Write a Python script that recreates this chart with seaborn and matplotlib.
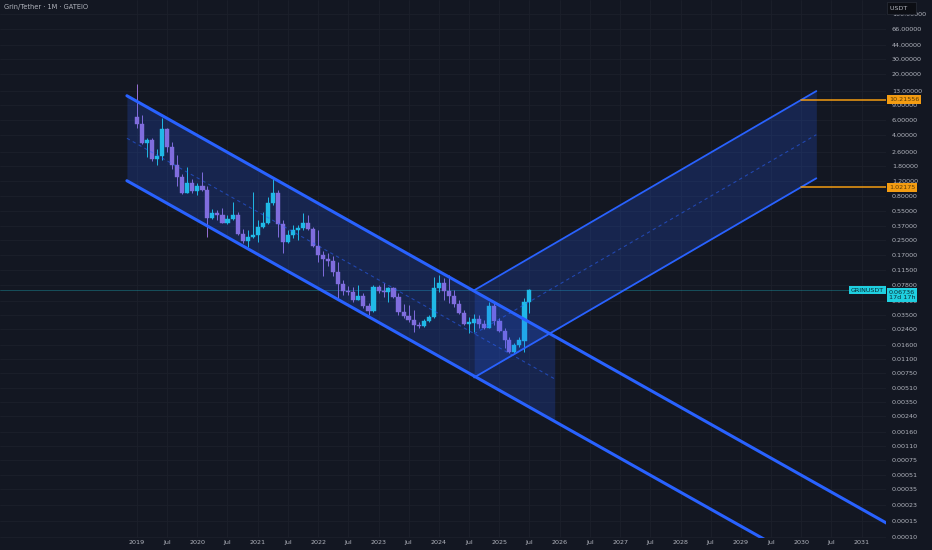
import numpy as np
import pandas as pd
import matplotlib
matplotlib.use("Agg")
import matplotlib.pyplot as plt
import matplotlib.dates as mdates
from matplotlib.ticker import NullLocator
from matplotlib.transforms import blended_transform_factory
import seaborn as sns

BG = "#131722"
GRID = "#1c202b"
TXT = "#b2b5be"
UP = "#1fcfe0"
DOWN = "#9670d6"
BLUE = "#2962ff"
ORANGE = "#f39c12"

# --- Grin/Tether monthly candles, Jan 2019 .. Jul 2025 ---
months = pd.date_range("2019-01-01", "2025-07-01", freq="MS")
opens = [6.555, 5.362, 3.248, 3.543, 2.129, 2.322, 4.700, 2.969, 1.831, 1.345,
         0.881, 1.129, 0.9216, 1.052, 0.9462, 0.448, 0.5114, 0.4928, 0.399, 0.4434,
         0.489, 0.2961, 0.2442, 0.2757, 0.2884, 0.359, 0.399, 0.6765, 0.8671, 0.3855,
         0.2416, 0.2884, 0.3291, 0.3441, 0.3927, 0.3378, 0.2157, 0.1701, 0.1518, 0.1463,
         0.1094, 0.07907, 0.06522, 0.06318, 0.05182, 0.05805, 0.04387, 0.03877, 0.07249, 0.06626,
         0.06403, 0.07058, 0.05654, 0.03805, 0.03424, 0.03031, 0.02678, 0.02608, 0.03, 0.03334,
         0.07171, 0.08054, 0.06626, 0.05805, 0.04626, 0.03648, 0.02728, 0.02801, 0.03112, 0.02728,
         0.02493, 0.04457, 0.02977, 0.02304, 0.01802, 0.01302, 0.01579, 0.01755, 0.04877]
highs = [15.55, 6.857, 3.707, 3.70, 2.772, 6.283, 4.826, 3.388, 2.384, 1.45,
         1.723, 1.255, 1.129, 1.534, 1.052, 0.5683, 0.5578, 0.5834, 0.489, 0.6947,
         0.5334, 0.3352, 0.3291, 0.8905, 0.4284, 0.5334, 0.7805, 1.265, 0.9462, 0.4284,
         0.3291, 0.3754, 0.3754, 0.5114, 0.489, 0.359, 0.3291, 0.1905, 0.1793, 0.1656,
         0.1425, 0.08789, 0.07559, 0.07362, 0.077, 0.06185, 0.04749, 0.077, 0.077, 0.08054,
         0.07362, 0.07362, 0.06185, 0.04662, 0.04541, 0.0398, 0.02921, 0.03112, 0.03487, 0.09436,
         0.1003, 0.09192, 0.1003, 0.06749, 0.05182, 0.0398, 0.03334, 0.03552, 0.03487, 0.03031,
         0.04955, 0.04749, 0.03195, 0.02455, 0.01966, 0.01652, 0.01966, 0.05507, 0.06929]
lows = [4.826, 3.188, 2.244, 2.019, 1.816, 2.089, 2.602, 1.635, 1.052, 0.8514,
        0.8671, 0.8671, 0.829, 0.9216, 0.2757, 0.4365, 0.4284, 0.3927, 0.3855, 0.4284,
        0.2884, 0.2316, 0.2084, 0.2643, 0.2416, 0.3469, 0.3855, 0.6368, 0.2757, 0.1807,
        0.2316, 0.2643, 0.2527, 0.3291, 0.3291, 0.2084, 0.1414, 0.09766, 0.1272, 0.09766,
        0.0542, 0.05913, 0.05913, 0.04955, 0.05114, 0.04162, 0.03487, 0.03805, 0.06235, 0.05609,
        0.04955, 0.0542, 0.03487, 0.03195, 0.02921, 0.02244, 0.02455, 0.0252, 0.02898, 0.03195,
        0.06453, 0.05182, 0.04749, 0.04341, 0.03552, 0.02678, 0.02151, 0.02244, 0.02455, 0.0241,
        0.02455, 0.02678, 0.02244, 0.01447, 0.01269, 0.0128, 0.0151, 0.01302, 0.03648]
closes = [5.362, 3.248, 3.543, 2.129, 2.322, 4.700, 2.969, 1.831, 1.345, 0.881,
          1.129, 0.9216, 1.052, 0.9462, 0.448, 0.5114, 0.4928, 0.399, 0.4434, 0.489,
          0.2961, 0.2442, 0.2757, 0.2884, 0.359, 0.399, 0.6765, 0.8671, 0.3855, 0.2416,
          0.2884, 0.3291, 0.3441, 0.3927, 0.3378, 0.2157, 0.1701, 0.1518, 0.1463, 0.1094,
          0.07907, 0.06522, 0.06318, 0.05182, 0.05805, 0.04387, 0.03877, 0.07249, 0.06626, 0.06403,
          0.07058, 0.05654, 0.03805, 0.03424, 0.03031, 0.02678, 0.02608, 0.03, 0.03334, 0.07171,
          0.08054, 0.06626, 0.05805, 0.04626, 0.03648, 0.02728, 0.02861, 0.03112, 0.02728, 0.02493,
          0.04457, 0.02977, 0.02304, 0.01802, 0.01302, 0.01579, 0.01802, 0.04877, 0.06736]
last_price = 0.06736

# descending channel: upper line anchors, lower line = upper / width, rays go right
down_dates = ["2018-11-01", "2025-12-01"]
down_upper = [11.4, 0.0198]
down_width = 9.43
down_ray_end = "2032-06-01"

# ascending channel (projection)
up_dates = ["2024-08-01", "2030-04-01"]
up_lower = [0.0067, 1.289]
up_width = 10.0
target_date = "2030-01-01"
targets = [10.21556, 1.02175]

price_ticks = [100, 66, 44, 30, 20, 13, 9, 6, 4, 2.6, 1.8, 1.2, 0.8, 0.55, 0.37, 0.25,
               0.17, 0.115, 0.078, 0.051, 0.035, 0.024, 0.016, 0.011, 0.0075, 0.0051,
               0.0035, 0.0024, 0.0016, 0.0011, 0.00075, 0.00051, 0.00035, 0.00023,
               0.00015, 0.0001]
time_ticks = pd.date_range("2019-01-01", "2031-01-01", freq="6MS")
time_labels = [str(d.year) if d.month == 1 else "Jul" for d in time_ticks]


def ray(dates, vals, to):
    x = mdates.date2num(pd.to_datetime(dates))
    lv = np.log10(vals)
    slope = (lv[1] - lv[0]) / (x[1] - x[0])
    xe = mdates.date2num(pd.Timestamp(to))
    return 10 ** (lv[0] + slope * (xe - x[0]))


sns.set_theme(style="dark", rc={
    "axes.facecolor": BG, "figure.facecolor": BG, "grid.color": GRID,
    "axes.grid": True, "grid.linewidth": 0.6,
    "xtick.color": TXT, "ytick.color": TXT, "text.color": TXT,
})
plt.rcParams["font.family"] = ["Liberation Sans Narrow", "DejaVu Sans"]

fig = plt.figure(figsize=(9.32, 5.5), dpi=100)
ax = fig.add_axes([0, 12 / 550, 886 / 932, 538 / 550])
for s in ax.spines.values():
    s.set_visible(False)

# --- candles ---
x = mdates.date2num(months)
o, h, l, c = map(np.array, (opens, highs, lows, closes))
col = np.where(c >= o, UP, DOWN)
ax.vlines(x, l, h, colors=col, lw=0.7, zorder=2)
ax.bar(x, np.abs(c - o), bottom=np.minimum(o, c), width=25, color=col,
       edgecolor=col, linewidth=0.3, zorder=2)

# --- descending channel ---
dx = mdates.date2num(pd.to_datetime(down_dates))
du = np.array(down_upper)
dl = du / down_width
ax.fill_between(dx, du, dl, color=BLUE, alpha=0.2, lw=0, zorder=3)
ax.plot(dx, np.sqrt(du * dl), color=BLUE, lw=0.8, ls=(0, (3, 3)), alpha=0.55, zorder=4)
xe = mdates.date2num(pd.Timestamp(down_ray_end))
ue = ray(down_dates, down_upper, down_ray_end)
ax.plot([dx[0], xe], [du[0], ue], color=BLUE, lw=2.2, zorder=5)
ax.plot([dx[0], xe], [dl[0], ue / down_width], color=BLUE, lw=2.2, zorder=5)

# --- ascending channel ---
ux = mdates.date2num(pd.to_datetime(up_dates))
ul = np.array(up_lower)
uu = ul * up_width
ax.fill_between(ux, uu, ul, color=BLUE, alpha=0.2, lw=0, zorder=3)
ax.plot(ux, np.sqrt(uu * ul), color=BLUE, lw=0.8, ls=(0, (3, 3)), alpha=0.55, zorder=4)
ax.plot(ux, uu, color=BLUE, lw=1.3, zorder=5)
ax.plot(ux, ul, color=BLUE, lw=1.3, zorder=5)

# target lines
tx = mdates.date2num(pd.Timestamp(target_date))
left = mdates.date2num(pd.Timestamp("2019-01-01")) - 137 * 365.25 / 60.4
right = mdates.date2num(pd.Timestamp("2019-01-01")) + 749 * 365.25 / 60.4
for v in targets:
    ax.plot([tx, right], [v, v], color=ORANGE, lw=1.1, zorder=6)

ax.axhline(last_price, color=UP, lw=0.6, alpha=0.35, zorder=1)

# --- axes ---
ax.set_yscale("log")
ax.set_ylim(9.66e-5, 142.9)
ax.set_xlim(left, right)
ax.yaxis.set_minor_locator(NullLocator())
ax.set_yticks(price_ticks)
ax.set_yticklabels([f"{v:.5f}" for v in price_ticks])
ax.yaxis.tick_right()
ax.set_xticks(mdates.date2num(time_ticks))
ax.set_xticklabels(time_labels)
ax.tick_params(axis="y", length=0, pad=4.3, labelsize=4.6, labelcolor=TXT)
ax.tick_params(axis="x", length=0, pad=1.5, labelsize=4.6, labelcolor=TXT)
for t in ax.get_yticklabels():
    t.set_horizontalalignment("left")

# price labels on the scale
tr = blended_transform_factory(ax.transAxes, ax.transData)
for v in targets:
    ax.text(1 + 3 / 886, v, f"{v:.5f}", transform=tr, ha="left", va="center",
            fontsize=4.6, color="#5a3a05", clip_on=False, zorder=10,
            bbox=dict(boxstyle="square,pad=0.3", fc=ORANGE, ec="none"))
ax.text(1 + 3 / 886, last_price, f"{last_price:.5f}\n17d 17h", transform=tr,
        ha="left", va="top", fontsize=4.6, color="#0b2a33", clip_on=False, zorder=10,
        linespacing=1.1,
        bbox=dict(boxstyle="square,pad=0.3", fc=UP, ec="none"))
ax.text(1 - 2 / 886, last_price, "GRINUSDT", transform=tr, ha="right", va="center",
        fontsize=4.6, color="#0b2a33", clip_on=False, zorder=10,
        bbox=dict(boxstyle="square,pad=0.3", fc=UP, ec="none"))

fig.text(890 / 932, 1 - 8 / 550, "USDT   ", ha="left", va="center", fontsize=4.6,
         color=TXT, bbox=dict(boxstyle="square,pad=0.5", fc="#0c0e14", ec="#2a2e39", lw=0.5))
fig.text(4 / 932, 1 - 7 / 550, "Grin/Tether · 1M · GATEIO", ha="left", va="center",
         fontsize=4.8, color=TXT)

fig.savefig("out.png", dpi=100, facecolor=BG)
